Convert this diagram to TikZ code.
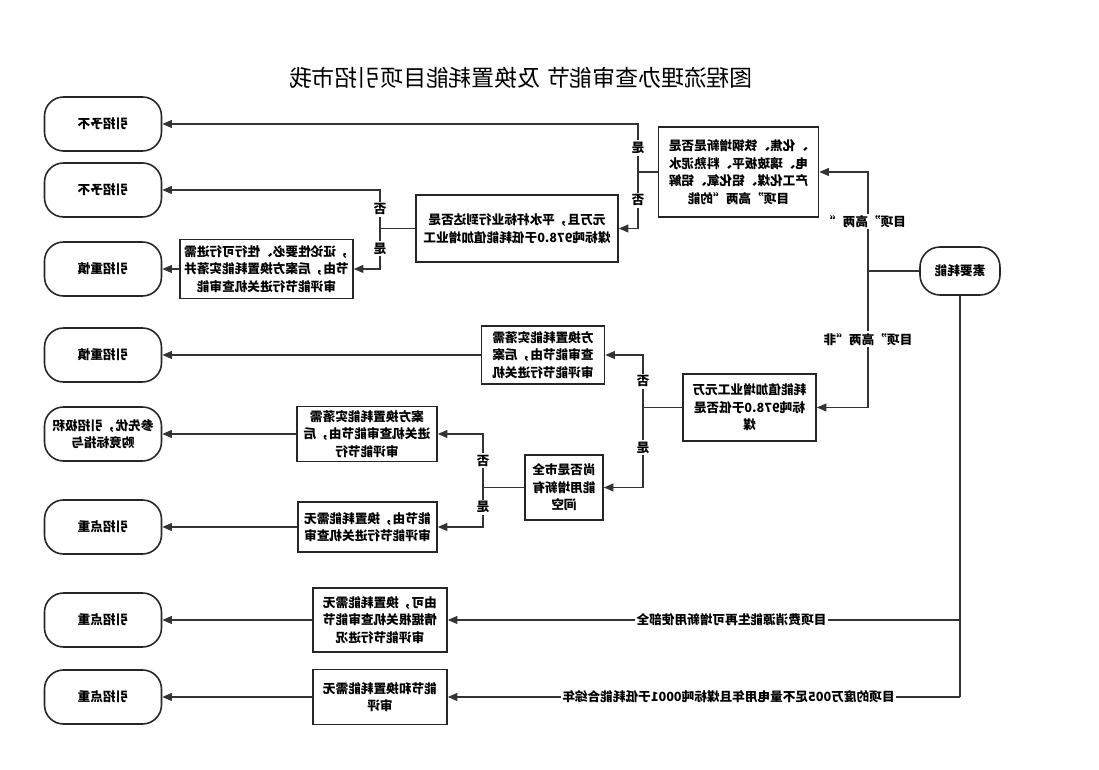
\documentclass[tikz,border=0pt]{standalone}
\usepackage{fontspec}
\setmainfont{Noto Sans CJK SC}
\usetikzlibrary{arrows.meta}

% every glyph is drawn mirrored, reading order kept
\makeatletter
\newcommand\mirtxt[1]{\mirtxt@loop#1\mirtxt@stop}
\def\mirtxt@stop{\mirtxt@stop}
\def\mirtxt@loop#1{\ifx#1\mirtxt@stop\else\reflectbox{#1}\expandafter\mirtxt@loop\fi}
\makeatother

\tikzset{
	box/.style={draw=black!85, line width=0.9pt, align=center, inner sep=2pt, font=\fontsize{7.2}{10}\selectfont\bfseries},
	endbox/.style={box, rounded corners=0.38cm, minimum width=2.34cm, minimum height=1.08cm},
	arr/.style={draw=black!80, line width=0.8pt, -{Triangle[length=5.5pt,width=4.5pt]}},
	line/.style={draw=black!80, line width=0.8pt},
	tag/.style={fill=white, inner sep=1pt, font=\fontsize{7.2}{9}\selectfont\bfseries}
}

\begin{document}
\begin{tikzpicture}[x=0.02cm, y=0.02cm]
	\fill[white] (0,0) rectangle (1099,770);
	\useasboundingbox (0,0) rectangle (1099,770);
	
	\node[font=\fontsize{13}{15}\selectfont] (title) at (521,692) {\mirtxt{我市招引项目能耗置换及}\hspace{0.3em}\mirtxt{节能审查办理流程图}};
	
	% outcomes
	\node[endbox] (r1) at (103,646) {\mirtxt{不予招引}};
	\node[endbox] (r2) at (103,580) {\mirtxt{不予招引}};
	\node[endbox] (r3) at (103,501) {\mirtxt{慎重招引}};
	\node[endbox] (r4) at (103,415) {\mirtxt{慎重招引}};
	\node[endbox] (r5) at (103,336) {\mirtxt{积极招引，优先参}\\\mirtxt{与指标竞购}};
	\node[endbox] (r6) at (103,243) {\mirtxt{重点招引}};
	\node[endbox] (r7) at (103,150) {\mirtxt{重点招引}};
	\node[endbox] (r8) at (103,73) {\mirtxt{重点招引}};
	
	\node[box, rounded corners=0.4cm, minimum width=1.6cm, minimum height=0.96cm] (root) at (960,499) {\mirtxt{能耗要素}};
	
	% checks and steps
	\node[box, minimum width=3.2cm, minimum height=1.8cm] (qa) at (738.5,598) {\mirtxt{是否是新增钢铁、焦化、}\\\mirtxt{水泥熟料、平板玻璃、电}\\\mirtxt{解铝、氧化铝、煤化工产}\\\mirtxt{能的“两高”项目}};
	\node[box, minimum width=4.04cm, minimum height=1.34cm] (qb) at (517,541.5) {\mirtxt{是否达到行业标杆水平，且万元}\\\mirtxt{工业增加值能耗低于0.879吨标煤}};
	\node[box, minimum width=3.46cm, minimum height=1.18cm] (qc) at (266.5,501) {\mirtxt{需进行可行性、必要性论证，}\\\mirtxt{并落实能耗置换方案后，由节}\\\mirtxt{能审查机关进行节能评审}};
	\node[box, minimum width=2.66cm, minimum height=1.34cm] (qd) at (749.5,362.5) {\mirtxt{万元工业增加值能耗}\\\mirtxt{是否低于0.879吨标}\\\mirtxt{煤}};
	\node[box, minimum width=2.46cm, minimum height=1.16cm] (qe) at (543,415) {\mirtxt{需落实能耗置换方}\\\mirtxt{案后，由节能审查}\\\mirtxt{机关进行节能评审}};
	\node[box, minimum width=1.56cm, minimum height=1.3cm] (qf) at (564,282.5) {\mirtxt{全市是否尚}\\\mirtxt{有新增用能}\\\mirtxt{空间}};
	\node[box, minimum width=2.8cm, minimum height=1.1cm] (qg) at (367,336) {\mirtxt{需落实能耗置换方案}\\\mirtxt{后，由节能审查机关进}\\\mirtxt{行节能评审}};
	\node[box, minimum width=2.78cm, minimum height=1.0cm] (qh) at (367.5,243) {\mirtxt{无需能耗置换，由节能}\\\mirtxt{审查机关进行节能评审}};
	\node[box, minimum width=2.68cm, minimum height=1.28cm] (qi) at (380,150) {\mirtxt{无需能耗置换，可由}\\\mirtxt{节能审查机关根据情}\\\mirtxt{况进行节能评审}};
	\node[box, minimum width=2.68cm, minimum height=1.1cm] (qj) at (380,73) {\mirtxt{无需能耗置换和节能}\\\mirtxt{评审}};
	
	% trunk from the root
	\coordinate (jr) at (868,499);
	\coordinate (jc) at (960,150);
	\coordinate (jd) at (960,73);
	\draw[line] (root.west) -- (jr);
	\draw[arr] (jr) |- (qa.east) node[tag,pos=0.25] {\mirtxt{“两高”项目}};
	\draw[arr] (jr) |- (qd.east) node[tag,pos=0.25] {\mirtxt{非“两高”项目}};
	\draw[line] (root.south) -- (jd);
	\draw[arr] (jc) -- (qi.east) node[tag,pos=0.446] {\mirtxt{全部使用新增可再生能源消费项目}};
	\draw[arr] (jd) -- (qj.east) node[tag,pos=0.452] {\mirtxt{年综合能耗低于1000吨标煤且年用电量不足500万度的项目}};
	
	% branches
	\coordinate (ja) at (638,598);
	\draw[line] (qa.west) -- (ja);
	\draw[arr] (ja) |- (r1.east) node[tag,pos=0.25] {\mirtxt{是}};
	\draw[arr] (ja) |- (qb.east) node[tag,pos=0.25] {\mirtxt{否}};
	
	\coordinate (jb) at (380,541.5);
	\draw[line] (qb.west) -- (jb);
	\draw[arr] (jb) |- (r2.east) node[tag,pos=0.25] {\mirtxt{否}};
	\draw[arr] (jb) |- (qc.east) node[tag,pos=0.25] {\mirtxt{是}};
	
	\coordinate (jq) at (643,362.5);
	\draw[line] (qd.west) -- (jq);
	\draw[arr] (jq) |- (qe.east) node[tag,pos=0.25] {\mirtxt{否}};
	\draw[arr] (jq) |- (qf.east) node[tag,pos=0.25] {\mirtxt{是}};
	
	\coordinate (jf) at (483,282.5);
	\draw[line] (qf.west) -- (jf);
	\draw[arr] (jf) |- (qg.east) node[tag,pos=0.25] {\mirtxt{否}};
	\draw[arr] (jf) |- (qh.east) node[tag,pos=0.25] {\mirtxt{是}};
	
	% into the outcomes
	\draw[arr] (qc.west) -- (r3.east);
	\draw[arr] (qe.west) -- (r4.east);
	\draw[arr] (qg.west) -- (r5.east);
	\draw[arr] (qh.west) -- (r6.east);
	\draw[arr] (qi.west) -- (r7.east);
	\draw[arr] (qj.west) -- (r8.east);
\end{tikzpicture}
\end{document}
